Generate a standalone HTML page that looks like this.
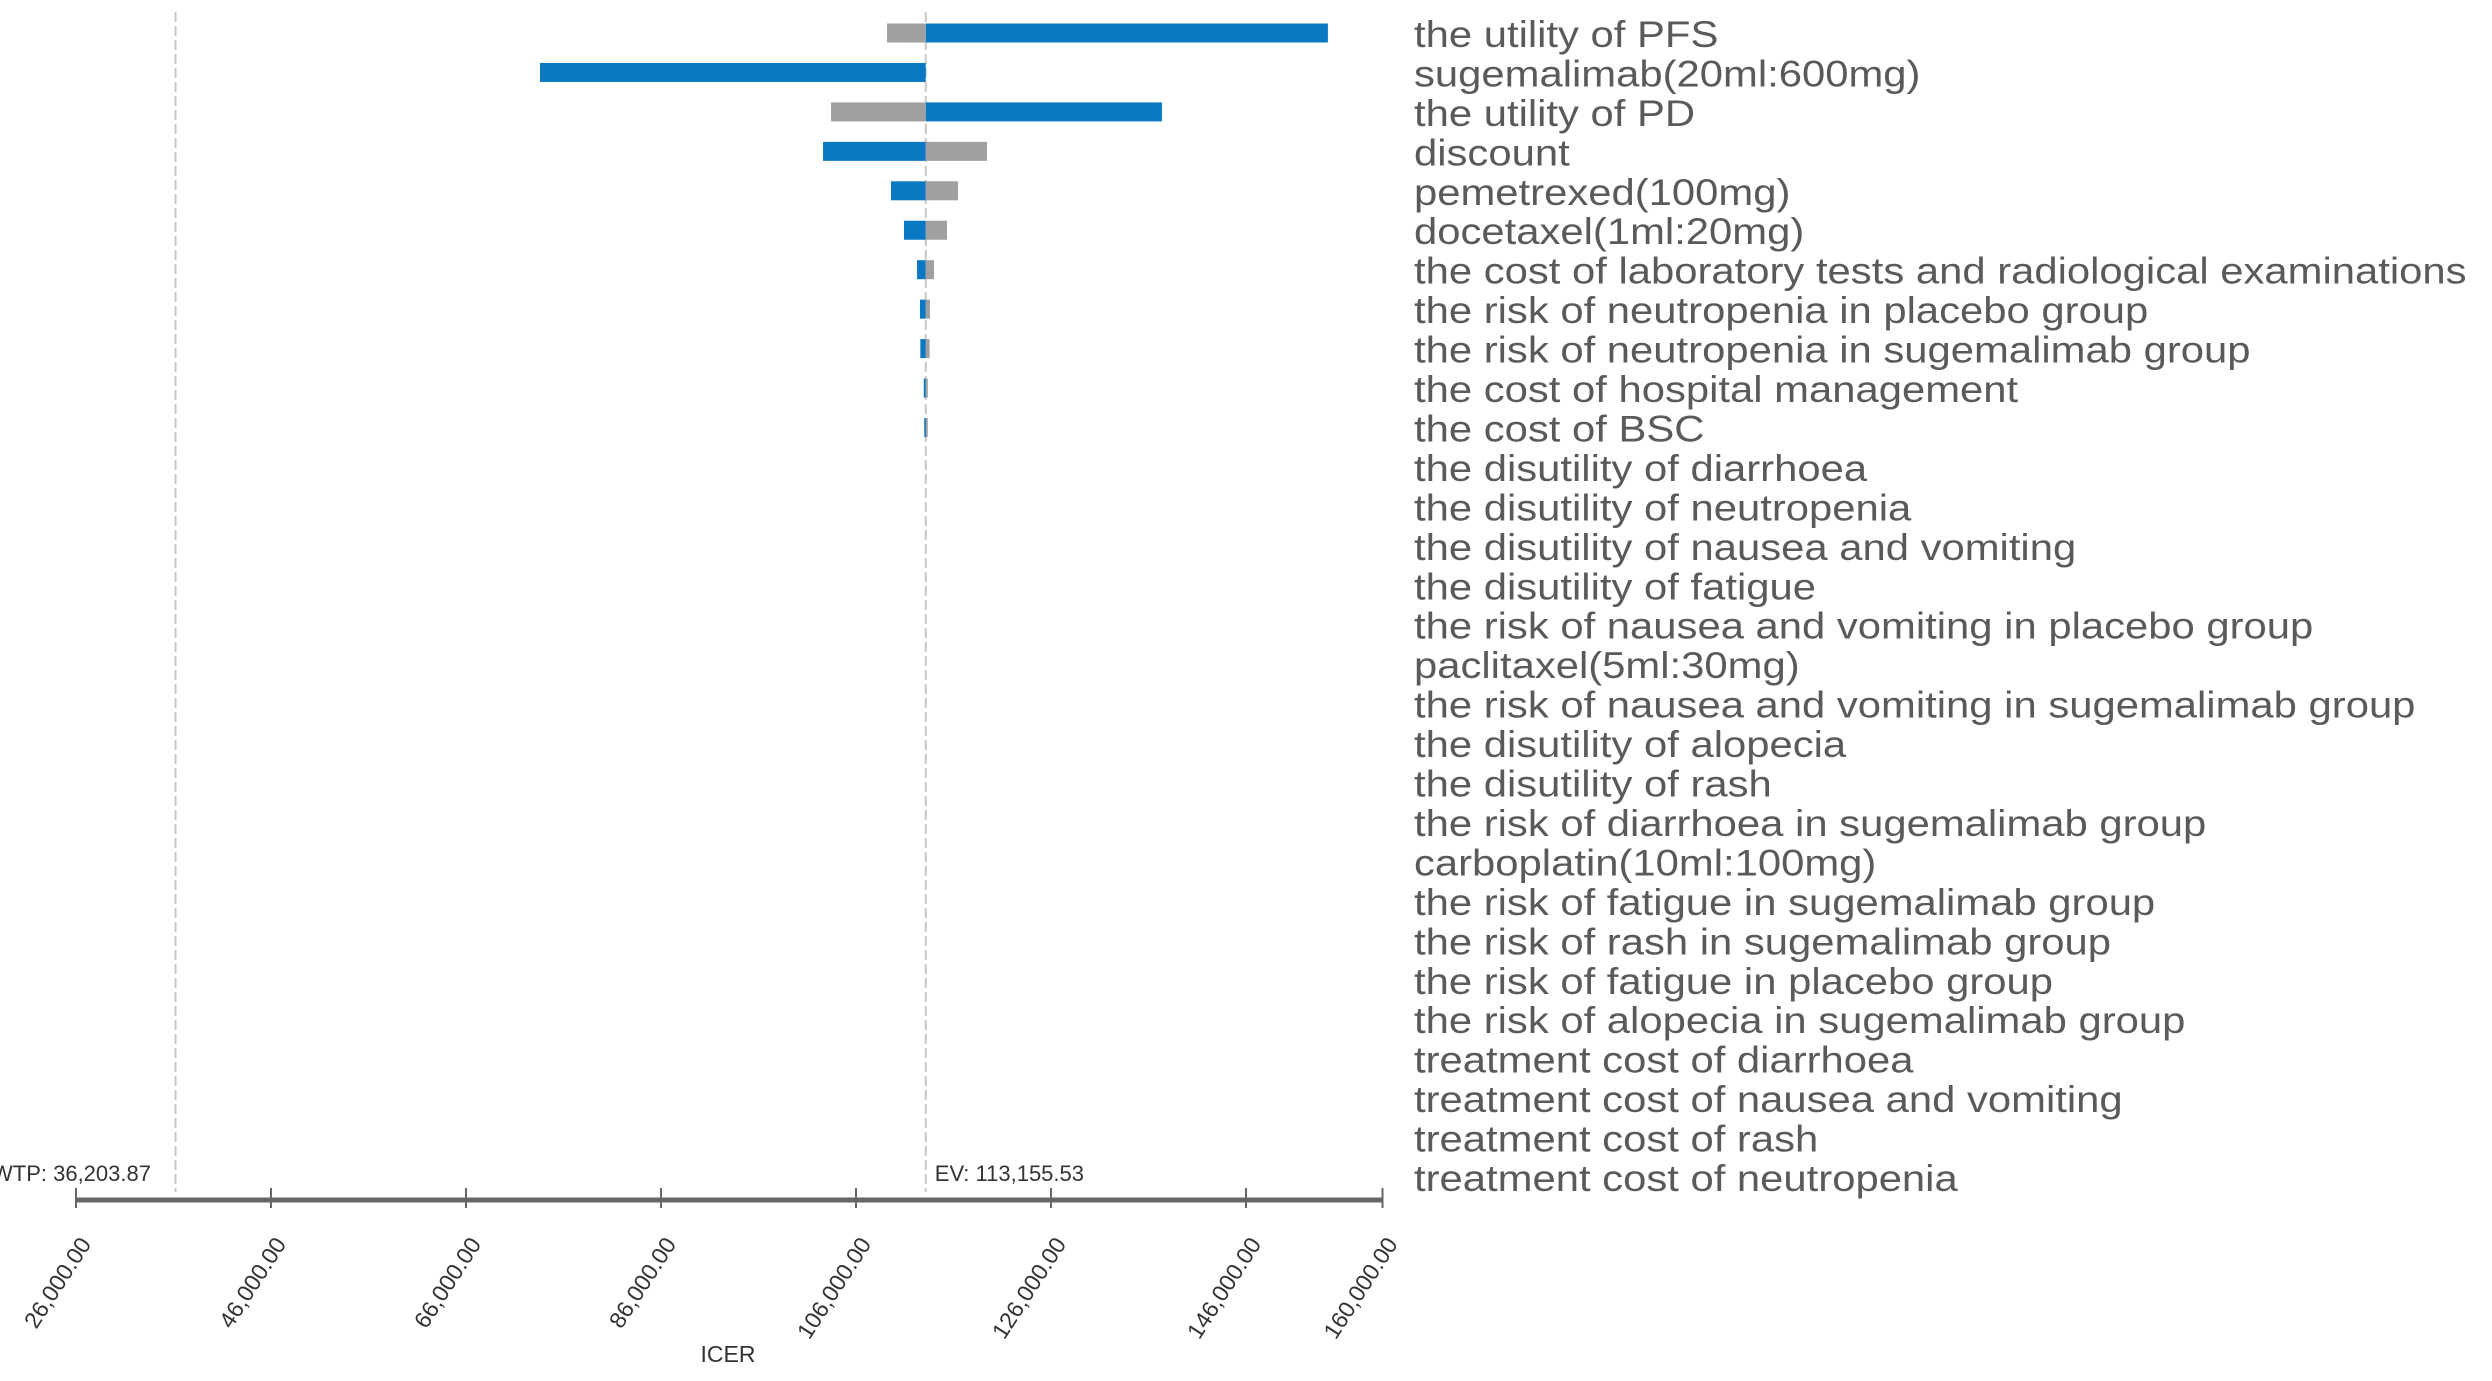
<!DOCTYPE html>
<html><head><meta charset="utf-8"><style>
html,body{margin:0;padding:0;background:#fff;}
svg{display:block;font-family:"Liberation Sans",sans-serif;}
</style></head><body>
<svg id="chart" width="2492" height="1381" viewBox="0 0 2492 1381">
<g id="grid"></g><g id="bars"></g><g id="labels"></g><g id="axis"></g>
</svg>
<script>
const categories = ["the utility of PFS","sugemalimab(20ml:600mg)","the utility of PD","discount","pemetrexed(100mg)","docetaxel(1ml:20mg)","the cost of laboratory tests and radiological examinations","the risk of neutropenia in placebo group","the risk of neutropenia in sugemalimab group","the cost of hospital management","the cost of BSC","the disutility of diarrhoea","the disutility of neutropenia","the disutility of nausea and vomiting","the disutility of fatigue","the risk of nausea and vomiting in placebo group","paclitaxel(5ml:30mg)","the risk of nausea and vomiting in sugemalimab group","the disutility of alopecia","the disutility of rash","the risk of diarrhoea in sugemalimab group","carboplatin(10ml:100mg)","the risk of fatigue in sugemalimab group","the risk of rash in sugemalimab group","the risk of fatigue in placebo group","the risk of alopecia in sugemalimab group","treatment cost of diarrhoea","treatment cost of nausea and vomiting","treatment cost of rash","treatment cost of neutropenia"];
const EV = 113155.53;
const WTP = 36203.87;
const blueValues = [154400,73590,137380,102620,109590,110920,112260,112560,112600,112950,113000,113155.53,113155.53,113155.53,113155.53,113155.53,113155.53,113155.53,113155.53,113155.53,113155.53,113155.53,113155.53,113155.53,113155.53,113155.53,113155.53,113155.53,113155.53,113155.53];
const grayValues = [109180,113155.53,103440,119440,116460,115330,114000,113590,113550,113350,113300,113155.53,113155.53,113155.53,113155.53,113155.53,113155.53,113155.53,113155.53,113155.53,113155.53,113155.53,113155.53,113155.53,113155.53,113155.53,113155.53,113155.53,113155.53,113155.53];
const tickValues = [26000,46000,66000,86000,106000,126000,146000,160000];
const tickLabels = ["26,000.00","46,000.00","66,000.00","86,000.00","106,000.00","126,000.00","146,000.00","160,000.00"];

const NS="http://www.w3.org/2000/svg";
const x0=76, pxPer=0.00975, xMin=26000;
function xs(v){return x0+(v-xMin)*pxPer;}
function ys(i){return 35+i*39.45;}
function mk(tag,attrs,parent){const e=document.createElementNS(NS,tag);for(const k in attrs)e.setAttribute(k,attrs[k]);parent.appendChild(e);return e;}
const grid=document.getElementById('grid'),bars=document.getElementById('bars'),labels=document.getElementById('labels'),axis=document.getElementById('axis');
const axisY=1200;

let l=mk('line',{x1:xs(WTP),x2:xs(WTP),y1:12,y2:axisY-8,stroke:'#c8c8c8','stroke-width':2,'stroke-dasharray':'10,4'},grid);


l=mk('line',{x1:xs(EV),x2:xs(EV),y1:12,y2:axisY-8,stroke:'#c8c8c8','stroke-width':2,'stroke-dasharray':'10,4'},grid);



categories.forEach((c,i)=>{
  const yc=ys(i), h=19;
  [[blueValues[i],'#0a78c2','blue'],[grayValues[i],'#a0a0a0','gray']].forEach(([v,col,nm])=>{
    if(Math.abs(v-EV)<1)return;
    const a=Math.min(xs(v),xs(EV)), w=Math.max(Math.abs(xs(v)-xs(EV)),2);
    const r=mk('rect',{x:a,y:yc-h/2-2,width:w,height:h,fill:col},bars);
    
    
  });
  const t=mk('text',{x:1414,y:yc+12,'font-size':37,fill:'#5a5a5a'},labels);
  t.setAttribute('transform','translate(1414,0) scale(1.13,1) translate(-1414,0)');
  t.textContent=c;
  
  
});

l=mk('line',{x1:xs(26000),x2:xs(160000),y1:axisY,y2:axisY,stroke:'#666','stroke-width':5},axis);


tickValues.forEach((v,i)=>{
  const x=xs(v);
  const tk=mk('line',{x1:x,x2:x,y1:axisY-12,y2:axisY+8,stroke:'#666','stroke-width':2},axis);
  
  
  const t=mk('text',{x:x+16,y:axisY+44,'font-size':23,fill:'#333','text-anchor':'end',transform:`rotate(-57 ${x+16} ${axisY+44})`},axis);
  t.textContent=tickLabels[i];
  
  
});
let t=mk('text',{x:-8,y:1181,'font-size':22,fill:'#333'},axis);
t.textContent='WTP: 36,203.87';


t=mk('text',{x:xs(EV)+9,y:1181,'font-size':22,fill:'#333'},axis);
t.textContent='EV: 113,155.53';


t=mk('text',{x:728,y:1362,'font-size':23,fill:'#333','text-anchor':'middle'},axis);
t.textContent='ICER';


</script>
</body></html>
